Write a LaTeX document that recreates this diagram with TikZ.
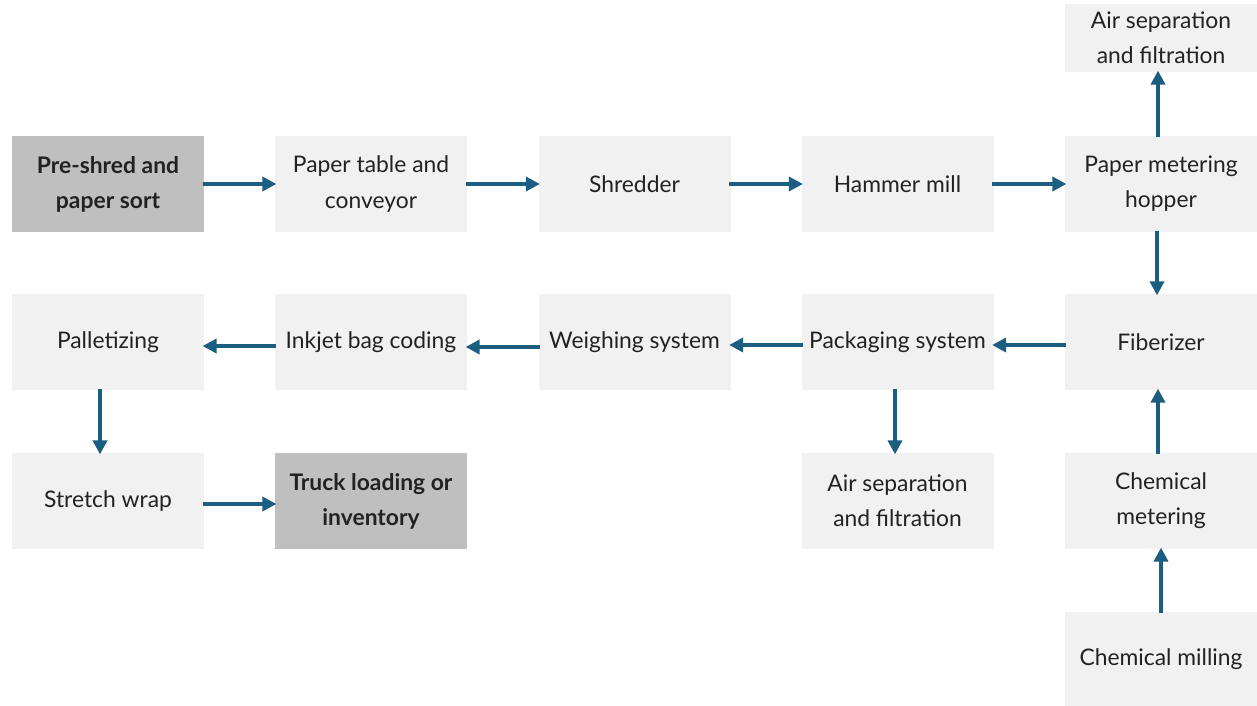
\documentclass[tikz,border=0pt]{standalone}
\usepackage{fontspec}
\setmainfont{Lato}
\usepackage{xcolor}
\usetikzlibrary{arrows.meta}
\definecolor{boxgray}{HTML}{F1F1F1}
\definecolor{darkgray}{HTML}{BFBFBF}
\definecolor{flowblue}{HTML}{1B5E80}
\definecolor{txt}{HTML}{222222}
\begin{document}
\begin{tikzpicture}[x=1.0cm,y=1.0cm,>={Triangle[length=2.8mm,width=2.8mm]},
  box/.style={fill=boxgray,minimum width=3.84cm,minimum height=1.92cm,inner sep=0pt,align=center,text=txt,font=\fontsize{13}{20}\selectfont},
  endbox/.style={box,fill=darkgray,font=\fontsize{13}{20}\selectfont\bfseries},
  flow/.style={->,draw=flowblue,line width=2.2pt,shorten <=-1pt,shorten >=-1pt}]
\useasboundingbox (0,0) rectangle (25.14,-14.12);
% first row
\node[endbox] (sort) at (2.16,-3.68) {Pre-shred and\\paper sort};
\node[box] (table) at (7.42,-3.68) {Paper table and\\conveyor};
\node[box] (shred) at (12.69,-3.68) {Shredder};
\node[box] (hammer) at (17.95,-3.68) {Hammer mill};
\node[box] (hopper) at (23.22,-3.68) {Paper metering\\hopper};
\node[box,minimum height=1.36cm] (airtop) at (23.22,-0.76) {Air separation\\and filtration};
% second row
\node[box] (pallet) at (2.16,-6.84) {Palletizing};
\node[box] (inkjet) at (7.42,-6.84) {Inkjet bag coding};
\node[box] (weigh) at (12.69,-6.84) {Weighing system};
\node[box] (pack) at (17.95,-6.84) {Packaging system};
\node[box] (fiber) at (23.22,-6.84) {Fiberizer};
% third row
\node[box] (wrap) at (2.16,-10.02) {Stretch wrap};
\node[endbox] (truck) at (7.42,-10.02) {Truck loading or\\inventory};
\node[box] (airbot) at (17.95,-10.02) {Air separation\\and filtration};
\node[box] (chemmet) at (23.22,-10.02) {Chemical\\metering};
\node[box,minimum height=1.88cm] (chemmill) at (23.22,-13.18) {Chemical milling};
% arrows
\draw[flow] (sort) -- (table);
\draw[flow] (table) -- (shred);
\draw[flow] (shred) -- (hammer);
\draw[flow] (hammer) -- (hopper);
\draw[flow] ([xshift=-0.06cm]hopper.north) -- ([xshift=-0.06cm]airtop.south);
\draw[flow] ([xshift=-0.08cm]hopper.south) -- ([xshift=-0.08cm]fiber.north);
\draw[flow] ([yshift=-0.06cm]fiber.west) -- ([yshift=-0.06cm]pack.east);
\draw[flow] ([yshift=-0.06cm]pack.west) -- ([yshift=-0.06cm]weigh.east);
\draw[flow] ([yshift=-0.1cm]weigh.west) -- ([yshift=-0.1cm]inkjet.east);
\draw[flow] ([yshift=-0.08cm]inkjet.west) -- ([yshift=-0.08cm]pallet.east);
\draw[flow] ([xshift=-0.16cm]pallet.south) -- ([xshift=-0.16cm]wrap.north);
\draw[flow] ([yshift=-0.06cm]wrap.east) -- ([yshift=-0.06cm]truck.west);
\draw[flow] ([xshift=-0.05cm]pack.south) -- ([xshift=-0.05cm]airbot.north);
\draw[flow] (chemmill) -- (chemmet);
\draw[flow] ([xshift=-0.06cm]chemmet.north) -- ([xshift=-0.06cm]fiber.south);
\end{tikzpicture}
\end{document}
